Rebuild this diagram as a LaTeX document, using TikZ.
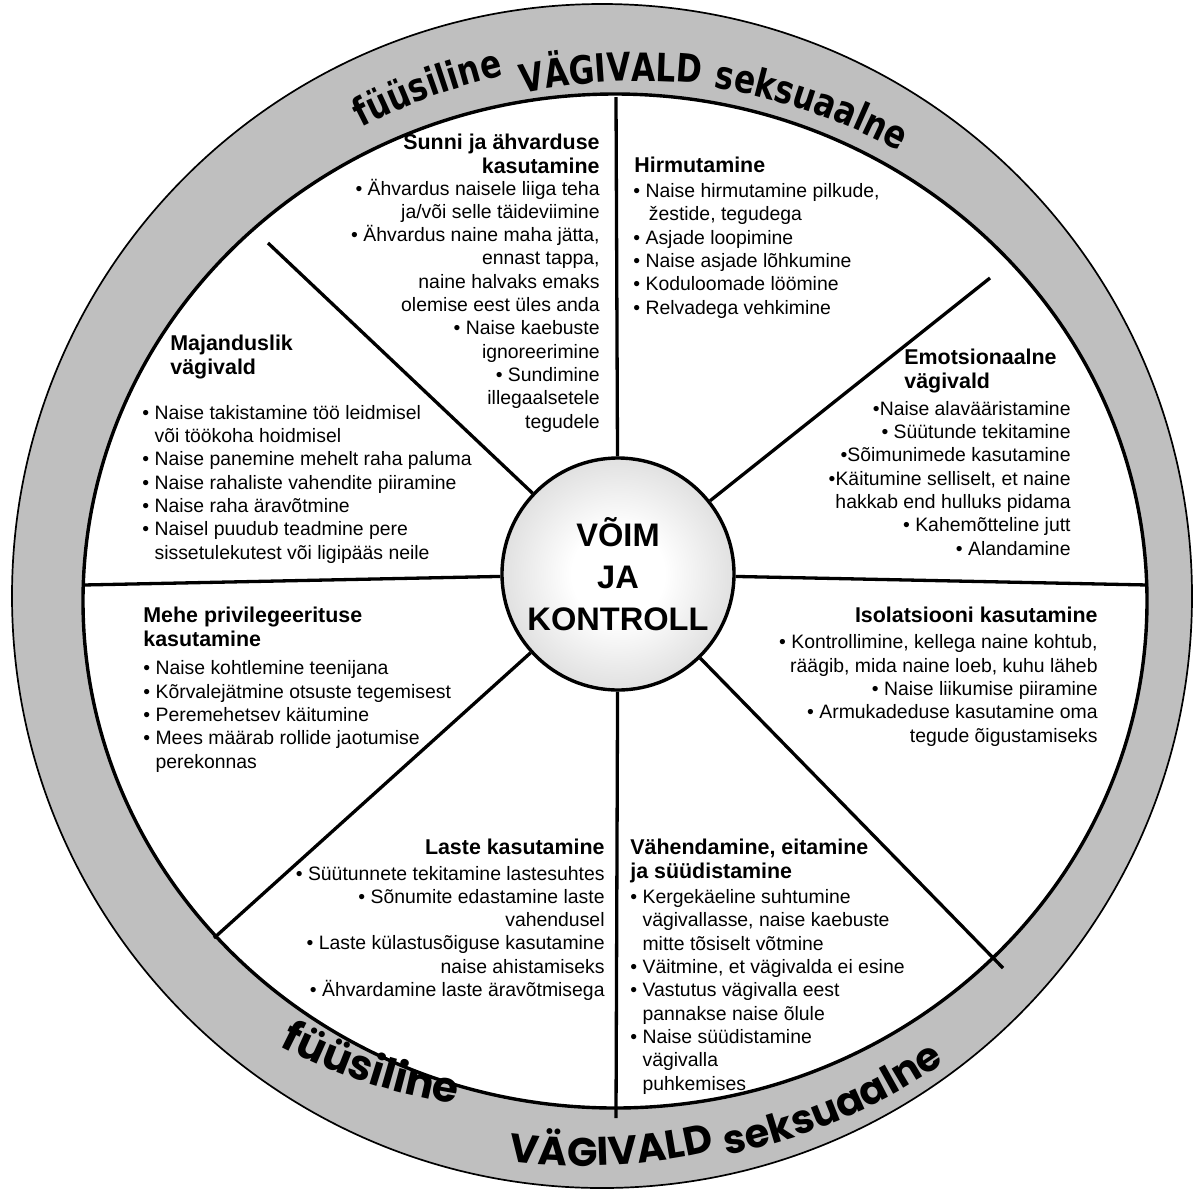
\documentclass[tikz,border=0pt]{standalone}
\usepackage{fontspec}
\setmainfont{Liberation Sans}
\newfontfamily\ylemine[FakeStretch=0.8]{DejaVu Sans}
\newfontfamily\alumine{Poppins}
\usetikzlibrary{decorations.text,positioning}
\pgfdeclareradialshading{rummvari}{\pgfpoint{0bp}{0bp}}{color(0bp)=(white); color(10bp)=(white); color(50bp)=(black!32)}

\begin{document}
\begin{tikzpicture}[x=0.5pt,y=-0.5pt]

    % Stiilid:
    \tikzstyle{pealkiri}=[inner sep=0pt, font=\fontsize{10.7}{12}\selectfont\bfseries]
    \tikzstyle{loetelu}=[inner sep=0pt, font=\fontsize{9.7}{11.65}\selectfont]
    \tikzstyle{kodar}=[draw, line width=1.65pt]
    \tikzstyle{rumm}=[circle, draw, line width=1.7pt, shading=rummvari,
    minimum size=116pt, inner sep=0pt, align=center,
    font=\fontsize{16.3}{21}\selectfont\bfseries]

    \newcommand{\tyhi}{\hphantom{• }}

    % Kiri ringil (keskpunkt, nurk, tekst):
    \newcommand{\ylakiri}[3]{%
    \path [decorate, decoration={text along path, text align=center,
        text={|\ylemine\bfseries\fontsize{19.5}{19.5}\selectfont|#3}}]
        (#1) ++(#2-25:600) arc [start angle=#2-25, end angle=#2+25, radius=600];}
    \newcommand{\alakiri}[4]{%
    \path [decorate, decoration={text along path, text align=center,
        text={|\alumine\bfseries\fontsize{#3}{#3}\selectfont|#4}}]
        (#1) ++(#2+25:580) arc [start angle=#2+25, end angle=#2-25, radius=580];}

    \useasboundingbox (0,0) rectangle (1194,1190);

    % Ratas:
    \filldraw[fill=black!25, draw=black, line width=0.85pt] (602,596) ellipse [x radius=590, y radius=592];
    \filldraw[fill=white, draw=black, line width=1.7pt] (615,601) ellipse [x radius=532, y radius=507];

    \ylakiri{636,661}{250}{füüsiline}
    \ylakiri{643,681}{267}{VÄGIVALD}
    \ylakiri{614,679}{289}{seksuaalne}

    \alakiri{545,531}{108}{21}{füüsiline}
    \alakiri{582,586}{87}{20}{VÄGIVALD}
    \alakiri{614,586}{67}{20}{seksuaalne}

    % Rumm ja kodarad:
    \node (voim) [rumm] at (618,574) {VÕIM\\JA\\KONTROLL};

    \coordinate (kN) at (616,97);
    \coordinate (kNE) at (990,278);
    \coordinate (kE) at (1148,585);
    \coordinate (kSE) at (1003,968);
    \coordinate (kS) at (616,1118);
    \coordinate (kSW) at (214,938);
    \coordinate (kW) at (83,585);
    \coordinate (kNW) at (268,243);

    \foreach \k in {kN,kNE,kE,kSE,kS,kSW,kW,kNW}
        \path [kodar] (voim) -- (\k);

    % Sektorid (base = viimane rida):
    \node (hSunni) [pealkiri, anchor=base east, align=right] at (600,173)
        {Sunni ja ähvarduse\\kasutamine};
    \path (hSunni.base east)+(0,255) node (lSunni) [loetelu, anchor=base east, align=right]
        {• Ähvardus naisele liiga teha\\ja/või selle täideviimine\\
        • Ähvardus naine maha jätta,\\ennast tappa,\\naine halvaks emaks\\
        olemise eest üles anda\\• Naise kaebuste\\ignoreerimine\\
        • Sundimine\\illegaalsetele\\tegudele};

    \node (hHirm) [pealkiri, anchor=base west] at (634,172) {Hirmutamine};
    \path (hHirm.base west)+(-1,142) node (lHirm) [loetelu, anchor=base west, align=left]
        {• Naise hirmutamine pilkude,\\\tyhi\,žestide, tegudega\\• Asjade loopimine\\
        • Naise asjade lõhkumine\\• Koduloomade löömine\\• Relvadega vehkimine};

    \node (hMaj) [pealkiri, anchor=base west, align=left] at (170,374)
        {Majanduslik\\vägivald};
    \path (hMaj.base west)+(-28,185) node (lMaj) [loetelu, anchor=base west, align=left]
        {• Naise takistamine töö leidmisel\\\tyhi või töökoha hoidmisel\\
        • Naise panemine mehelt raha paluma\\• Naise rahaliste vahendite piiramine\\
        • Naise raha äravõtmine\\• Naisel puudub teadmine pere\\
        \tyhi sissetulekutest või ligipääs neile};

    \node (hEmo) [pealkiri, anchor=base west, align=left] at (904,388)
        {Emotsionaalne\\vägivald};
    \path (hEmo.base west)+(167,167) node (lEmo) [loetelu, anchor=base east, align=right]
        {•Naise alavääristamine\\• Süütunde tekitamine\\•Sõimunimede kasutamine\\
        •Käitumine selliselt, et naine\\hakkab end hulluks pidama\\
        • Kahemõtteline jutt\\• Alandamine};

    \node (hMehe) [pealkiri, anchor=base west, align=left] at (143,646)
        {Mehe privilegeerituse\\kasutamine};
    \path (hMehe.base west)+(0,122) node (lMehe) [loetelu, anchor=base west, align=left]
        {• Naise kohtlemine teenijana\\• Kõrvalejätmine otsuste tegemisest\\
        • Peremehetsev käitumine\\• Mees määrab rollide jaotumise\\\tyhi perekonnas};

    \node (hIso) [pealkiri, anchor=base east] at (1098,622) {Isolatsiooni kasutamine};
    \path (hIso.base east)+(0,120) node (lIso) [loetelu, anchor=base east, align=right]
        {• Kontrollimine, kellega naine kohtub,\\räägib, mida naine loeb, kuhu läheb\\
        • Naise liikumise piiramine\\• Armukadeduse kasutamine oma\\
        tegude õigustamiseks};

    \node (hLaste) [pealkiri, anchor=base east] at (605,854) {Laste kasutamine};
    \path (hLaste.base east)+(0,142.5) node (lLaste) [loetelu, anchor=base east, align=right]
        {• Süütunnete tekitamine lastesuhtes\\• Sõnumite edastamine laste\\
        vahendusel\\• Laste külastusõiguse kasutamine\\naise ahistamiseks\\
        • Ähvardamine laste äravõtmisega};

    \node (hVah) [pealkiri, anchor=base west, align=left] at (630,878)
        {Vähendamine, eitamine\\ja süüdistamine};
    \path (hVah.base west)+(0,212) node (lVah) [loetelu, anchor=base west, align=left]
        {• Kergekäeline suhtumine\\\tyhi vägivallasse, naise kaebuste\\
        \tyhi mitte tõsiselt võtmine\\• Väitmine, et vägivalda ei esine\\
        • Vastutus vägivalla eest\\\tyhi pannakse naise õlule\\
        • Naise süüdistamine\\\tyhi vägivalla\\\tyhi puhkemises};

\end{tikzpicture}
\end{document}
